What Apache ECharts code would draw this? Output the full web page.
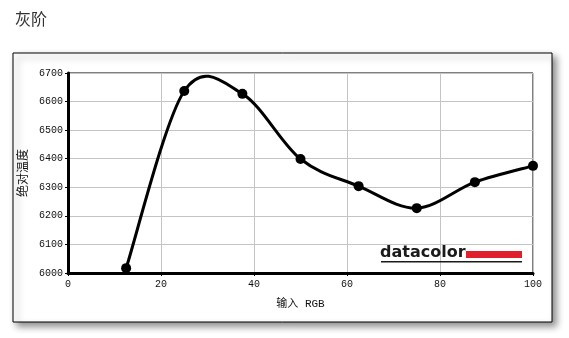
<!DOCTYPE html>
<html><head><meta charset="utf-8">
<script src="https://cdn.jsdelivr.net/npm/echarts@6/dist/echarts.min.js"></script>
<style>html,body{margin:0;padding:0;background:#fff;}#c{width:569px;height:338px;}</style>
</head><body><div id="c"></div>
<script>
const xValues = [12.5, 25, 37.5, 50, 62.5, 75, 87.5, 100];
const yValues = [6017, 6637, 6627, 6399, 6304, 6227, 6318, 6375];
const xTicks = [0, 20, 40, 60, 80, 100];
const yTicks = [6000, 6100, 6200, 6300, 6400, 6500, 6600, 6700];
const title = '灰阶';
const xName = '输入 RGB';
const yName = '绝对温度';

const points = xValues.map((x, i) => [x, yValues[i]]);
const chart = echarts.init(document.getElementById('c'), null, {renderer: 'canvas'});
const tickFont = {fontFamily: 'Liberation Mono', fontSize: 10, color: '#111'};

function renderSegment(params, api) {
  const i = params.dataIndex;
  const n = points.length;
  if (i >= n - 1) return null;
  const P = points.map(p => api.coord(p));
  const p0 = P[Math.max(i - 1, 0)], p1 = P[i], p2 = P[i + 1], p3 = P[Math.min(i + 2, n - 1)];
  return {
    type: 'bezierCurve',
    shape: {
      x1: p1[0], y1: p1[1], x2: p2[0], y2: p2[1],
      cpx1: p1[0] + (p2[0] - p0[0]) / 6, cpy1: p1[1] + (p2[1] - p0[1]) / 6,
      cpx2: p2[0] - (p3[0] - p1[0]) / 6, cpy2: p2[1] - (p3[1] - p1[1]) / 6
    },
    style: {fill: 'none', stroke: '#000', lineWidth: 3, lineCap: 'round', lineJoin: 'round'}
  };
}

chart.setOption({
  animation: false,
  backgroundColor: '#fff',
  title: {text: title, left: 10, top: 6, textStyle: {fontFamily: 'Noto Sans CJK SC', fontSize: 16, fontWeight: 'normal', color: '#333'}},
  graphic: [
    {type: 'rect', z: -10, silent: true, shape: {x: 13, y: 53, width: 539, height: 269},
     style: {fill: '#fff', stroke: '#000', lineWidth: 1, shadowBlur: 7, shadowOffsetX: 4, shadowOffsetY: 4, shadowColor: 'rgba(0,0,0,0.45)'}},
    {type: 'text', z: 10, left: 380, top: 245, style: {text: 'datacolor', fontFamily: 'DejaVu Sans', fontWeight: 'bold', fontSize: 16, fill: '#1a1a1a'}},
    {type: 'rect', z: 10, shape: {x: 466, y: 251, width: 56, height: 7}, style: {fill: '#e0202c'}},
    {type: 'rect', z: 10, shape: {x: 381, y: 261, width: 141, height: 1.5}, style: {fill: '#1a1a1a'}}
  ],
  grid: {left: 68, right: 36, top: 73, bottom: 65, show: true, borderColor: '#000', borderWidth: 1, backgroundColor: 'transparent'},
  xAxis: {
    type: 'value', min: xTicks[0], max: xTicks[xTicks.length - 1], interval: 20,
    name: xName, nameLocation: 'middle', nameGap: 26,
    nameTextStyle: {fontFamily: 'Liberation Mono, Noto Sans CJK SC', fontSize: 11, color: '#111'},
    axisLine: {show: true, lineStyle: {color: '#000', width: 3}},
    axisTick: {show: true, length: 3, lineStyle: {color: '#000'}},
    axisLabel: Object.assign({margin: 6, formatter: v => String(v)}, tickFont),
    splitLine: {show: true, lineStyle: {color: '#c4c4c4', width: 1}}
  },
  yAxis: {
    type: 'value', min: yTicks[0], max: yTicks[yTicks.length - 1], interval: 100,
    name: yName, nameLocation: 'middle', nameGap: 34, nameRotate: 90,
    nameTextStyle: {fontFamily: 'Noto Sans CJK SC', fontSize: 12, color: '#111'},
    axisLine: {show: true, lineStyle: {color: '#000', width: 3}},
    axisTick: {show: true, length: 3, lineStyle: {color: '#000'}},
    axisLabel: Object.assign({margin: 5, formatter: v => String(v)}, tickFont),
    splitLine: {show: true, lineStyle: {color: '#c4c4c4', width: 1}}
  },
  series: [
    {type: 'custom', data: points, renderItem: renderSegment, clip: false, encode: {x: 0, y: 1}, z: 3},
    {type: 'scatter', data: points, symbol: 'circle', symbolSize: 10, itemStyle: {color: '#000', opacity: 1}, clip: false, z: 4}
  ]
});
</script></body></html>
